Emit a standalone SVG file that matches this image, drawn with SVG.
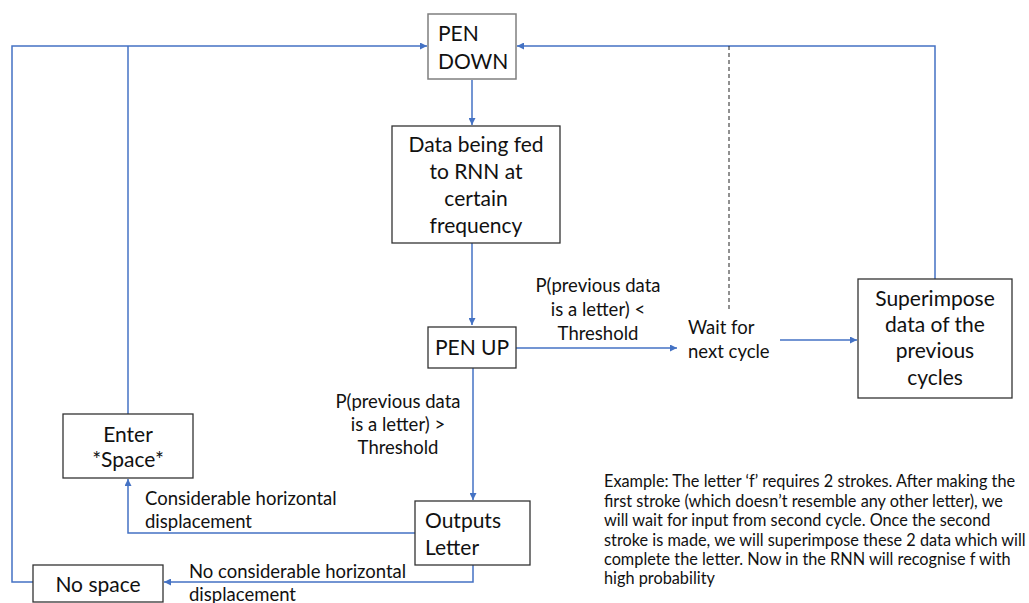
<svg xmlns="http://www.w3.org/2000/svg" width="1029" height="603" viewBox="0 0 1029 603">
<style>
.box{fill:#fff;stroke:#333;stroke-width:1.3}
.t{font-family:Lato,"Open Sans",sans-serif;font-size:21px;fill:#111}
.l{font-family:Lato,"Open Sans",sans-serif;font-size:18.5px;fill:#111}
.e{font-family:Lato,"Open Sans",sans-serif;font-size:16.3px;fill:#111}
.c{fill:none;stroke:#4472C4;stroke-width:1.5}
</style>
<defs>
<marker id="a" viewBox="0 0 10 10" refX="10" refY="5" markerWidth="7" markerHeight="7" markerUnits="userSpaceOnUse" orient="auto"><path d="M0,0L10,5L0,10z" fill="#4472C4"/></marker>
</defs>
<rect width="1029" height="603" fill="#fff"/>
<g id="connectors">
<path class="c" d="M472,80V125" marker-end="url(#a)"/>
<path class="c" d="M472,243V325" marker-end="url(#a)"/>
<path class="c" d="M516,348H677" marker-end="url(#a)"/>
<path class="c" d="M780,340H857" marker-end="url(#a)"/>
<path class="c" d="M935,279V46H517" marker-end="url(#a)"/>
<path d="M729,46V310" fill="none" stroke="#222" stroke-width="1" stroke-dasharray="4,3"/>
<path class="c" d="M473,368V500" marker-end="url(#a)"/>
<path class="c" d="M415,533H128V479" marker-end="url(#a)"/>
<path class="c" d="M473,565V582H164" marker-end="url(#a)"/>
<path class="c" d="M128,414V46"/>
<path class="c" d="M33,582H12V46H427" marker-end="url(#a)"/>
<text class="l" text-anchor="middle" x="598" y="292">P(previous data</text>
<text class="l" text-anchor="middle" x="598" y="316">is a letter) &lt;</text>
<text class="l" text-anchor="middle" x="598" y="340">Threshold</text>
<text class="l" text-anchor="middle" x="398" y="408">P(previous data</text>
<text class="l" text-anchor="middle" x="398" y="431">is a letter) &gt;</text>
<text class="l" text-anchor="middle" x="398" y="454">Threshold</text>
<text class="l" x="145" y="505">Considerable horizontal</text>
<text class="l" x="145" y="528">displacement</text>
<text class="l" x="189" y="578">No considerable horizontal</text>
<text class="l" x="189" y="601">displacement</text>
</g>
<g id="pen-down">
<rect x="428" y="14" width="88" height="65" fill="#fff" stroke="#7f7f7f" stroke-width="1.5"/>
<text class="t" x="438" y="41">PEN</text>
<text class="t" x="438" y="69">DOWN</text>
</g>
<g id="data-fed">
<rect class="box" x="392" y="126" width="168" height="117"/>
<text class="t" text-anchor="middle" x="476" y="152">Data being fed</text>
<text class="t" text-anchor="middle" x="476" y="179">to RNN at</text>
<text class="t" text-anchor="middle" x="476" y="206">certain</text>
<text class="t" text-anchor="middle" x="476" y="233">frequency</text>
</g>
<g id="pen-up">
<rect class="box" x="428" y="327" width="88" height="41"/>
<text class="t" text-anchor="middle" x="472" y="355">PEN UP</text>
</g>
<g id="wait">
<text class="l" x="688" y="334">Wait for</text>
<text class="l" x="688" y="358">next cycle</text>
</g>
<g id="superimpose">
<rect class="box" x="858" y="279" width="154" height="119"/>
<text class="t" text-anchor="middle" x="935" y="306">Superimpose</text>
<text class="t" text-anchor="middle" x="935" y="332">data of the</text>
<text class="t" text-anchor="middle" x="935" y="358">previous</text>
<text class="t" text-anchor="middle" x="935" y="385">cycles</text>
</g>
<g id="outputs">
<rect class="box" x="415" y="501" width="115" height="64"/>
<text class="t" x="425" y="528">Outputs</text>
<text class="t" x="425" y="555">Letter</text>
</g>
<g id="enter-space">
<rect class="box" x="63" y="414" width="130" height="64"/>
<text class="t" text-anchor="middle" x="128" y="442">Enter</text>
<text class="t" text-anchor="middle" x="128" y="467">*Space*</text>
</g>
<g id="no-space">
<rect class="box" x="33" y="565" width="130" height="37"/>
<text class="t" text-anchor="middle" x="98" y="592">No space</text>
</g>
<g id="example">
<text class="e" x="604" y="487">Example: The letter ‘f’ requires 2 strokes. After making the</text>
<text class="e" x="604" y="507">first stroke (which doesn’t resemble any other letter), we</text>
<text class="e" x="604" y="526">will wait for input from second cycle. Once the second</text>
<text class="e" x="604" y="546">stroke is made, we will superimpose these 2 data which will</text>
<text class="e" x="604" y="565">complete the letter. Now in the RNN will recognise f with</text>
<text class="e" x="604" y="584">high probability</text>
</g>
</svg>
